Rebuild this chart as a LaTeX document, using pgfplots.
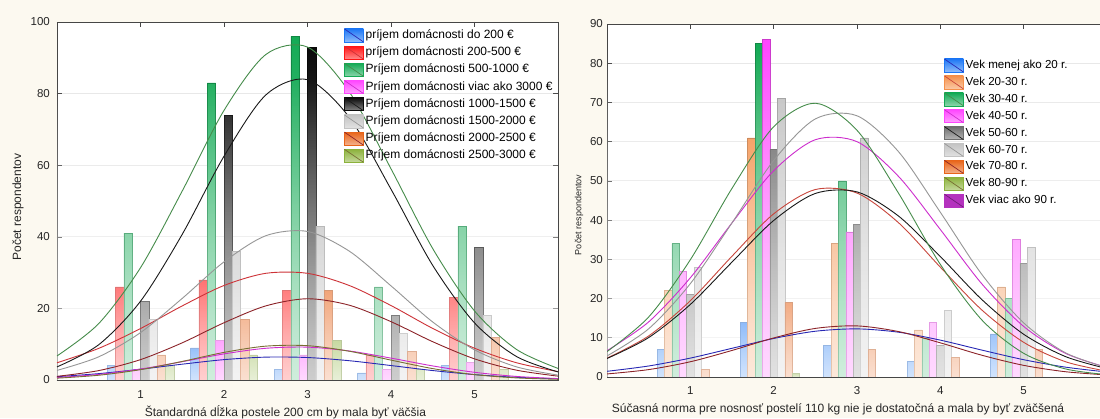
\documentclass[border=0pt]{standalone}
\usepackage{pgfplots}
\pgfplotsset{compat=1.18}
\usepackage{pgfplotstable}
\usepackage{fontspec}
\setmainfont{Liberation Sans}
\usetikzlibrary{fadings}

\definecolor{bg}{RGB}{252,249,240}
\definecolor{axcol}{RGB}{70,70,70}
\definecolor{cBlue}{RGB}{30,120,245}
\definecolor{cBlueL}{RGB}{40,40,180}
\definecolor{cRed}{RGB}{255,20,20}
\definecolor{cRedL}{RGB}{205,50,55}
\definecolor{cGreen}{RGB}{20,170,85}
\definecolor{cGreenL}{RGB}{70,140,75}
\definecolor{cMag}{RGB}{255,70,255}
\definecolor{cMagL}{RGB}{205,45,205}
\definecolor{cBlack}{RGB}{10,10,10}
\definecolor{cBlackL}{RGB}{25,25,25}
\definecolor{cGray}{RGB}{195,195,195}
\definecolor{cGrayL}{RGB}{150,150,150}
\definecolor{cOrange}{RGB}{232,100,25}
\definecolor{cOrangeL}{RGB}{140,35,40}
\definecolor{cOlive}{RGB}{140,178,60}
\definecolor{cOliveL}{RGB}{120,110,50}
\definecolor{cLOrange}{RGB}{245,145,75}
\definecolor{cLOrangeL}{RGB}{200,70,60}
\definecolor{cDGray}{RGB}{110,110,110}
\definecolor{cPurple}{RGB}{180,50,190}
\definecolor{cPurpleL}{RGB}{110,30,120}

\tikzfading[name=barfade, top color=transparent!100, bottom color=transparent!40]

% bar heights (left chart): categories 1..5
\pgfplotstableread{
x a b c d e f g h
1 4 26 41 3 22 17 7 4
2 9 28 83 11 74 36 17 7
3 3 25 96 7 93 43 25 11
4 2 7 26 3 18 13 8 3
5 4 23 43 5 37 18 12 3
}\leftdata

% fitted normal curves (left chart), read at x = 0, 0.5, ..., 6
\pgfplotstableread{
x blue red green mag black gray orange olive
0 0.93 4.81 6.72 0.68 3.66 2.68 1.02 0.51
0.5 1.78 8.84 15.77 1.56 9.86 6.48 2.63 1.33
1 3.01 14.37 31.36 3.06 22.0 13.24 5.69 2.89
1.5 4.42 20.7 52.8 5.11 40.7 22.8 10.39 5.19
2 5.69 26.4 75.3 7.29 62.5 33.0 15.99 7.71
2.5 6.39 29.8 90.9 8.86 79.6 40.3 20.7 9.46
3 6.28 29.8 93.0 9.18 83.9 41.5 22.7 9.59
3.5 5.39 26.4 80.5 8.11 73.4 36.0 20.9 8.04
4 4.04 20.8 59.0 6.11 53.3 26.3 16.3 5.56
4.5 2.64 14.4 36.7 3.93 32.0 16.2 10.69 3.18
5 1.51 8.88 19.3 2.15 15.97 8.43 5.91 1.50
5.5 0.76 4.84 8.59 1.0 6.6 3.69 2.76 0.59
6 0.33 2.34 3.24 0.40 2.26 1.36 1.08 0.19
}\leftcurves

% bar heights (right chart)
\pgfplotstableread{
x a b c d e f g h
1 7 22 34 27 21 28 2 0
2 14 61 85 86 58 71 19 1
3 8 34 50 37 39 61 7 0
4 4 12 10 14 8 17 5 0
5 11 23 20 35 29 33 7 0
}\rightdata

% fitted normal curves (right chart)
\pgfplotstableread{
x blue orange green mag dgray lgray dorange
0 1.45 4.81 6.47 6.70 4.71 5.37 0.78
0.5 2.81 10.47 15.3 14.05 10.06 12.3 1.89
1 4.82 19.45 29.9 25.3 18.5 23.8 3.89
1.5 7.32 30.8 48.1 39.3 29.3 39.3 6.77
2 9.82 41.6 63.8 52.6 39.9 55.2 9.96
2.5 11.67 47.8 69.8 60.5 46.8 65.8 12.39
3 12.27 46.9 62.9 60.0 47.2 66.6 13.03
3.5 11.42 39.3 46.8 51.1 41.0 57.4 11.58
4 9.40 28.0 28.7 37.6 30.7 42.0 8.71
4.5 6.85 17.05 14.5 23.7 19.7 26.1 5.54
5 4.41 8.84 6.04 12.9 10.9 13.8 2.97
5.5 2.52 3.91 2.07 6.05 5.22 6.2 1.35
6 1.27 1.47 0.59 2.44 2.14 2.37 0.52
}\rightcurves

\pgfplotsset{
  legsw/.style 2 args={legend image code/.code={%
      \fill[#1] (0pt,-6.5pt) rectangle (19pt,6.5pt);
      \draw[#2, line width=0.7pt] (0pt,6.5pt) -- (19pt,-6.5pt);}},
  mybar/.style n args={3}{ybar, bar width=#3, bar shift=#2,
      draw=#1!80!black, line width=0.5pt, top color=#1, bottom color=#1!50!white},
  curve/.style={smooth, no markers, line width=0.9pt, forget plot, #1},
  stat/.style={
    scale only axis, anchor=south west,
    xmin=0, ymin=0,
    xtick={1,2,3,4,5},
    /pgf/number format/assume math mode=true,
    ticklabel style={font=\fontsize{11.5}{13}\selectfont, text=black!85},
    axis line style={draw=axcol, line width=0.8pt},
    tick style={draw=axcol, line width=0.6pt},
    major tick length=5pt,
    ymajorgrids, grid style={draw=black!9, line width=0.8pt},
    axis background/.style={fill=white},
    label style={font=\fontsize{12}{14}\selectfont, text=black!85},
    xticklabel style={inner ysep=0pt, yshift=-10pt},
    legend cell align=left,
  },
}

\begin{document}
\begin{tikzpicture}
\fill[bg] (0,0) rectangle (1100pt,418pt);
\useasboundingbox (0,0) rectangle (1100pt,418pt);

% ---------------- left chart ----------------
\begin{axis}[stat,
  at={(57pt,38pt)}, width=501pt, height=358pt,
  xmax=6, ymax=100, ytick={0,20,...,100},
  yticklabel style={inner xsep=7pt},
  xlabel={Štandardná dĺžka postele 200 cm by mala byť väčšia},
  xlabel style={at={(axis description cs:0.456,-0.0894)}, anchor=center},
  ylabel={Počet respondentov},
  ylabel style={at={(axis description cs:-0.078,0.483)}, anchor=center, rotate=0},
  legend style={at={(0.5729,0.9818)}, anchor=north west, draw=none, fill=none,
    inner sep=0pt, outer sep=0pt, row sep=3.5pt, column sep=2pt,
    nodes={inner sep=0pt, text height=8.5pt, text depth=2.4pt,
      font=\fontsize{12}{12}\selectfont}},
]
\addplot[mybar={cBlue}{-0.35}{0.1}, legsw={cBlue}{cBlueL}] table[x=x,y=a]{\leftdata};
\addlegendentry{príjem domácnosti do 200 €}
\addplot[mybar={cRed}{-0.25}{0.1}, legsw={cRed}{cRedL}] table[x=x,y=b]{\leftdata};
\addlegendentry{príjem domácnosti 200-500 €}
\addplot[mybar={cGreen}{-0.15}{0.1}, legsw={cGreen}{cGreenL}] table[x=x,y=c]{\leftdata};
\addlegendentry{Príjem domácnosti 500-1000 €}
\addplot[mybar={cMag}{-0.05}{0.1}, legsw={cMag}{cMagL}] table[x=x,y=d]{\leftdata};
\addlegendentry{Príjem domácnosti viac ako 3000 €}
\addplot[mybar={cBlack}{0.05}{0.1}, legsw={cBlack}{cBlackL}] table[x=x,y=e]{\leftdata};
\addlegendentry{Príjem domácnosti 1000-1500 €}
\addplot[mybar={cGray}{0.15}{0.1}, legsw={cGray}{cGrayL}] table[x=x,y=f]{\leftdata};
\addlegendentry{Príjem domácnosti 1500-2000 €}
\addplot[mybar={cOrange}{0.25}{0.1}, legsw={cOrange}{cOrangeL}] table[x=x,y=g]{\leftdata};
\addlegendentry{Príjem domácnosti 2000-2500 €}
\addplot[mybar={cOlive}{0.35}{0.1}, legsw={cOlive}{cOliveL}] table[x=x,y=h]{\leftdata};
\addlegendentry{Príjem domácnosti 2500-3000 €}

\fill[white, path fading=barfade] (axis cs:0,0) rectangle (axis cs:6,84);

\addplot[curve=cBlueL] table[x=x,y=blue]{\leftcurves};
\addplot[curve=cMagL] table[x=x,y=mag]{\leftcurves};
\addplot[curve=cOliveL] table[x=x,y=olive]{\leftcurves};
\addplot[curve=cOrangeL] table[x=x,y=orange]{\leftcurves};
\addplot[curve=cRedL] table[x=x,y=red]{\leftcurves};
\addplot[curve=cGrayL] table[x=x,y=gray]{\leftcurves};
\addplot[curve=cBlackL] table[x=x,y=black]{\leftcurves};
\addplot[curve=cGreenL] table[x=x,y=green]{\leftcurves};
\draw[axcol, line width=0.8pt] (rel axis cs:0,0) -- (rel axis cs:1,0);
\end{axis}

% ---------------- right chart ----------------
\begin{axis}[stat,
  at={(607pt,41pt)}, width=493pt, height=353pt,
  xmax=5.916, ymax=90, ytick={0,10,...,90},
  axis y line*=left,
  yticklabel style={inner xsep=4pt},
  xticklabel style={yshift=1pt},
  xlabel={Súčasná norma pre nosnosť postelí 110 kg nie je dostatočná a mala by byť zväčšená},
  xlabel style={at={(axis description cs:0.4686,-0.0907)}, anchor=center},
  ylabel={Počet respondentov},
  ylabel style={at={(axis description cs:-0.0568,0.459)}, anchor=center, rotate=0,
    font=\fontsize{9}{11}\selectfont},
  legend style={at={(0.6836,0.902)}, anchor=north west, draw=none, fill=none,
    inner sep=0pt, outer sep=0pt, row sep=3.2pt, column sep=2pt,
    nodes={inner sep=0pt, text height=8.5pt, text depth=2.4pt,
      font=\fontsize{11.6}{12}\selectfont}},
]
\addplot[mybar={cBlue}{-0.3556}{0.0889}, legsw={cBlue}{cBlueL}] table[x=x,y=a]{\rightdata};
\addlegendentry{Vek menej ako 20 r.}
\addplot[mybar={cLOrange}{-0.2667}{0.0889}, legsw={cLOrange}{cLOrangeL}] table[x=x,y=b]{\rightdata};
\addlegendentry{Vek 20-30 r.}
\addplot[mybar={cGreen}{-0.1778}{0.0889}, legsw={cGreen}{cGreenL}] table[x=x,y=c]{\rightdata};
\addlegendentry{Vek 30-40 r.}
\addplot[mybar={cMag}{-0.0889}{0.0889}, legsw={cMag}{cMagL}] table[x=x,y=d]{\rightdata};
\addlegendentry{Vek 40-50 r.}
\addplot[mybar={cDGray}{0}{0.0889}, legsw={cDGray}{cBlackL}] table[x=x,y=e]{\rightdata};
\addlegendentry{Vek 50-60 r.}
\addplot[mybar={cGray}{0.0889}{0.0889}, legsw={cGray}{cGrayL}] table[x=x,y=f]{\rightdata};
\addlegendentry{Vek 60-70 r.}
\addplot[mybar={cOrange}{0.1778}{0.0889}, legsw={cOrange}{cOrangeL}] table[x=x,y=g]{\rightdata};
\addlegendentry{Vek 70-80 r.}
\addplot[mybar={cOlive}{0.2667}{0.0889}, legsw={cOlive}{cOliveL}] table[x=x,y=h]{\rightdata};
\addlegendentry{Vek 80-90 r.}
\addlegendimage{legsw={cPurple}{cPurpleL}}
\addlegendentry{Vek viac ako 90 r.}

\fill[white, path fading=barfade] (axis cs:0,0) rectangle (axis cs:6,84);

\addplot[curve=cBlueL] table[x=x,y=blue]{\rightcurves};
\addplot[curve=cOrangeL] table[x=x,y=dorange]{\rightcurves};
\addplot[curve=cLOrangeL] table[x=x,y=orange]{\rightcurves};
\addplot[curve=cBlackL] table[x=x,y=dgray]{\rightcurves};
\addplot[curve=cMagL] table[x=x,y=mag]{\rightcurves};
\addplot[curve=cGrayL] table[x=x,y=lgray]{\rightcurves};
\addplot[curve=cGreenL] table[x=x,y=green]{\rightcurves};
\draw[axcol, line width=0.8pt] (rel axis cs:0,0) -- (rel axis cs:1,0);
\end{axis}
\end{tikzpicture}
\end{document}
